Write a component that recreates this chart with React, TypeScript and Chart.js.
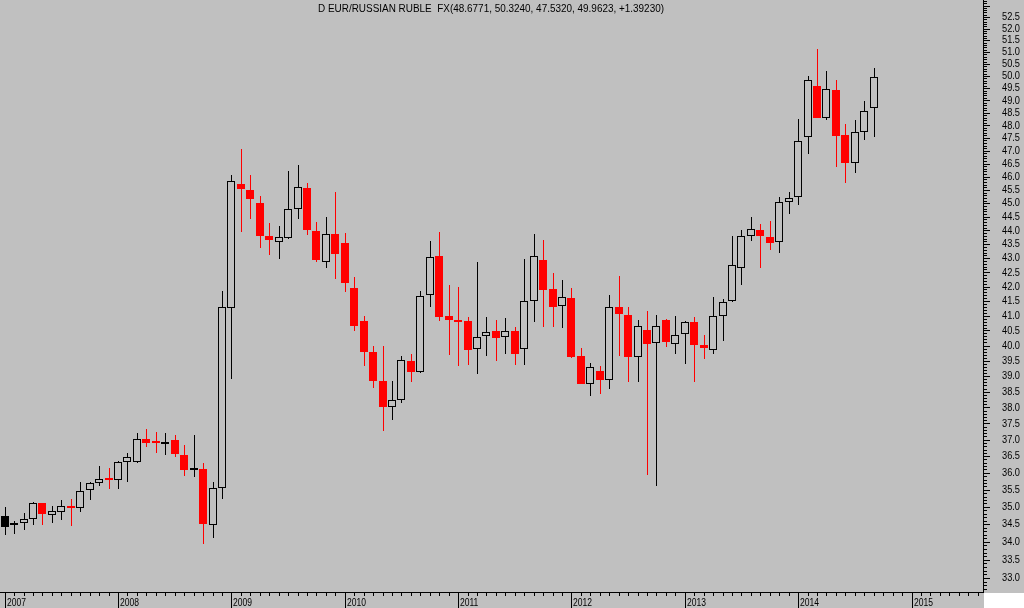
import React, { useEffect, useRef } from "react";
import { Chart, registerables } from "chart.js";

Chart.register(...registerables);

// Monthly candles, Jan 2007 .. Sep 2014
const months = [
  "2007-01", "2007-02", "2007-03", "2007-04", "2007-05", "2007-06", "2007-07", "2007-08", "2007-09", "2007-10", "2007-11", "2007-12",
  "2008-01", "2008-02", "2008-03", "2008-04", "2008-05", "2008-06", "2008-07", "2008-08", "2008-09", "2008-10", "2008-11", "2008-12",
  "2009-01", "2009-02", "2009-03", "2009-04", "2009-05", "2009-06", "2009-07", "2009-08", "2009-09", "2009-10", "2009-11", "2009-12",
  "2010-01", "2010-02", "2010-03", "2010-04", "2010-05", "2010-06", "2010-07", "2010-08", "2010-09", "2010-10", "2010-11", "2010-12",
  "2011-01", "2011-02", "2011-03", "2011-04", "2011-05", "2011-06", "2011-07", "2011-08", "2011-09", "2011-10", "2011-11", "2011-12",
  "2012-01", "2012-02", "2012-03", "2012-04", "2012-05", "2012-06", "2012-07", "2012-08", "2012-09", "2012-10", "2012-11", "2012-12",
  "2013-01", "2013-02", "2013-03", "2013-04", "2013-05", "2013-06", "2013-07", "2013-08", "2013-09", "2013-10", "2013-11", "2013-12",
  "2014-01", "2014-02", "2014-03", "2014-04", "2014-05", "2014-06", "2014-07", "2014-08", "2014-09",
];

const opens = [
  34.73, 34.47, 34.54, 34.65, 35.10, 34.76, 34.84, 35.00, 34.97, 35.48, 35.69, 35.84,
  35.78, 36.33, 36.33, 37.02, 36.93, 36.86, 36.99, 36.52, 36.08, 36.10, 34.48, 35.55,
  41.25, 45.72, 45.49, 45.01, 43.80, 43.57, 43.74, 44.77, 45.56, 43.98, 42.88, 43.87,
  43.53, 41.95, 40.82, 39.79, 38.84, 38.00, 38.25, 39.48, 39.12, 41.70, 43.07, 40.98,
  40.81, 40.81, 39.87, 40.31, 40.47, 40.27, 40.47, 39.87, 41.49, 42.93, 41.90, 41.33,
  41.60, 39.66, 38.74, 39.17, 38.89, 41.29, 41.02, 39.61, 40.52, 40.07, 40.86, 40.04,
  40.37, 40.79, 40.01, 39.85, 40.98, 41.49, 42.66, 43.78, 44.01, 43.77, 43.57, 45.03,
  45.22, 47.52, 49.59, 48.28, 49.42, 47.62, 46.51, 47.72, 48.6771,
];

const highs = [
  35.00, 34.59, 34.81, 35.15, 35.12, 35.02, 35.20, 35.23, 35.73, 35.72, 36.20, 36.15,
  36.36, 36.58, 37.22, 37.34, 37.25, 37.22, 37.15, 36.85, 37.15, 36.28, 35.74, 41.85,
  46.06, 47.07, 46.06, 45.27, 44.27, 44.15, 46.22, 46.45, 45.76, 44.31, 44.48, 45.43,
  43.92, 42.34, 40.99, 39.98, 39.98, 38.84, 39.66, 39.71, 41.85, 43.60, 43.94, 42.04,
  41.98, 40.95, 42.85, 40.95, 40.86, 40.93, 40.61, 42.97, 43.87, 43.65, 42.47, 42.23,
  41.95, 39.91, 39.43, 39.32, 41.71, 42.38, 41.29, 40.86, 41.16, 41.02, 40.88, 40.99,
  40.82, 40.96, 40.34, 41.64, 41.56, 43.80, 44.01, 44.48, 44.24, 44.34, 45.22, 45.41,
  48.25, 50.00, 51.13, 50.20, 49.83, 48.04, 48.21, 48.97, 50.3240,
];

const lows = [
  34.20, 34.23, 34.34, 34.48, 34.48, 34.54, 34.62, 34.45, 34.86, 35.19, 35.60, 35.53,
  35.53, 35.74, 36.30, 36.79, 36.59, 36.52, 36.47, 35.91, 35.87, 33.94, 34.10, 35.22,
  38.92, 43.95, 44.40, 43.37, 43.11, 42.98, 43.68, 44.41, 43.84, 42.87, 42.66, 42.27,
  41.82, 40.49, 39.34, 38.63, 37.28, 37.62, 38.14, 38.82, 39.10, 41.31, 40.83, 39.70,
  39.34, 39.37, 39.08, 39.67, 39.50, 39.73, 39.37, 39.37, 40.77, 40.63, 40.63, 40.59,
  39.60, 38.74, 38.37, 38.44, 38.60, 39.66, 38.81, 38.81, 35.94, 35.62, 39.96, 39.73,
  39.40, 38.82, 39.57, 39.71, 40.15, 41.48, 42.05, 43.60, 42.65, 43.29, 43.19, 44.61,
  44.94, 46.88, 48.28, 48.19, 46.38, 45.77, 46.15, 47.43, 47.5320,
];

const closes = [
  34.43, 34.52, 34.65, 35.10, 34.78, 34.87, 35.01, 34.96, 35.46, 35.70, 35.81, 35.80,
  36.33, 36.46, 37.01, 36.91, 36.89, 36.93, 36.56, 36.09, 36.11, 34.51, 35.55, 41.28,
  45.82, 45.54, 45.17, 43.81, 43.66, 43.75, 44.77, 45.60, 44.00, 42.94, 43.88, 43.16,
  42.13, 40.66, 39.78, 38.85, 38.02, 38.24, 39.51, 39.12, 41.68, 43.03, 40.97, 40.87,
  40.77, 39.86, 40.29, 40.46, 40.26, 40.47, 39.73, 41.49, 43.07, 41.89, 41.31, 41.63,
  39.63, 38.76, 39.28, 38.88, 41.28, 41.07, 39.62, 40.64, 40.06, 40.64, 40.12, 40.34,
  40.78, 40.03, 39.91, 40.98, 41.46, 42.77, 43.79, 44.04, 43.81, 43.56, 45.03, 45.20,
  47.37, 49.82, 48.30, 49.45, 47.59, 46.53, 47.72, 48.57, 49.9623,
];

const yearLabels = ["2007", "2008", "2009", "2010", "2011", "2012", "2013", "2014", "2015"];
const yearTickIndex = [0, 12, 24, 36, 48, 60, 72, 84, 96];

const priceTickLabels = [
  "33.0", "33.5", "34.0", "34.5", "35.0", "35.5", "36.0", "36.5", "37.0", "37.5",
  "38.0", "38.5", "39.0", "39.5", "40.0", "40.5", "41.0", "41.5", "42.0", "42.5",
  "43.0", "43.5", "44.0", "44.5", "45.0", "45.5", "46.0", "46.5", "47.0", "47.5",
  "48.0", "48.5", "49.0", "49.5", "50.0", "50.5", "51.0", "51.5", "52.0", "52.5",
];

const titleText = "D EUR/RUSSIAN RUBLE  FX(48.6771, 50.3240, 47.5320, 49.9623, +1.39230)";

const X_MIN = -0.4976;
const X_MAX = 103.568;
const Y_MIN = 32.59;
const Y_MAX = 53.244;

const BG = "#C0C0C0";
const RED = "#FF0000";
const BLACK = "#000000";
const FONT = '10px "Liberation Sans", Arial, sans-serif';
const FONT_X = '11px "Liberation Sans", Arial, sans-serif';

function candleColor(i: number): string {
  return i > 0 && closes[i] < closes[i - 1] ? RED : BLACK;
}
function bodyFill(i: number): string {
  return closes[i] < opens[i] ? candleColor(i) : BG;
}

const snapPlugin = {
  id: "snapCandles",
  beforeDatasetsDraw(chart: any) {
    const body = chart.getDatasetMeta(0).data;
    const wick = chart.getDatasetMeta(1).data;
    body.forEach((el: any, i: number) => {
      el.x = Math.round(el.x);
      el.y = Math.round(el.y);
      el.base = Math.round(el.base);
      const w = wick[i];
      if (w) {
        w.x = el.x + 0.5;
        w.y = Math.round(w.y);
        w.base = Math.round(w.base);
      }
    });
  },
};

function fitText(ctx: CanvasRenderingContext2D, text: string, x: number, y: number, sx: number) {
  ctx.save();
  ctx.translate(x, y);
  ctx.scale(sx, 1);
  ctx.fillText(text, 0, 0);
  ctx.restore();
}

const axesPlugin = {
  id: "axesDraw",
  beforeDraw(chart: any) {
    const { ctx, width, height, chartArea } = chart;
    ctx.save();
    ctx.fillStyle = BG;
    ctx.fillRect(0, 0, width, height);
    ctx.fillStyle = "#FFFFFF";
    ctx.fillRect(Math.round(chartArea.right) + 1, Math.round(chartArea.bottom), width, height);
    ctx.restore();
  },
  afterDraw(chart: any) {
    const { ctx, chartArea, scales } = chart;
    const xs = scales.x;
    const ys = scales.y;
    const R = Math.round(chartArea.right);
    const B = Math.round(chartArea.bottom);
    ctx.save();
    ctx.fillStyle = BLACK;
    // axis lines
    ctx.fillRect(R, 0, 1, B);
    ctx.fillRect(0, B - 1, R + 1, 1);
    // price ticks (minor every 0.1, major every 0.5)
    for (let k = 326; k <= 532; k++) {
      const py = Math.round(ys.getPixelForValue(k / 10));
      if (py < 0 || py > B - 1) continue;
      ctx.fillRect(R + 1, py, k % 5 === 0 ? 6 : 3, 1);
    }
    // month ticks
    for (let m = 0; m <= 110; m++) {
      const px = Math.round(xs.getPixelForValue(m));
      if (px > R) break;
      const isYear = yearTickIndex.indexOf(m) >= 0;
      ctx.fillRect(px, B, 1, isYear ? 15 : 3);
    }
    // price labels
    ctx.font = FONT;
    ctx.textAlign = "left";
    ctx.textBaseline = "middle";
    const sy = 18 / ctx.measureText("52.5").width;
    priceTickLabels.forEach((lab) => {
      const py = ys.getPixelForValue(parseFloat(lab));
      fitText(ctx, lab, 1002, py + 0.5, sy);
    });
    // title
    ctx.textAlign = "center";
    const st = 346 / ctx.measureText(titleText).width;
    fitText(ctx, titleText, 491, 9, st);
    // year labels
    ctx.font = FONT_X;
    ctx.textAlign = "left";
    ctx.textBaseline = "alphabetic";
    const sx = 19 / ctx.measureText("2007").width;
    yearLabels.forEach((lab, j) => {
      const px = Math.round(xs.getPixelForValue(yearTickIndex[j]));
      fitText(ctx, lab, px + 2, 606, sx);
    });
    ctx.restore();
  },
};

export default function App() {
  const ref = useRef<HTMLCanvasElement>(null);
  useEffect(() => {
    document.body.style.margin = "0";
    const canvas = ref.current;
    if (!canvas) return;
    const chart = new Chart(canvas, {
      type: "bar",
      data: {
        labels: months,
        datasets: [
          {
            label: "body",
            data: months.map((_, i) => ({ x: i, y: [opens[i], closes[i]] })) as any,
            backgroundColor: (c: any) => bodyFill(c.dataIndex),
            borderColor: (c: any) => candleColor(c.dataIndex),
            borderWidth: (c: any) => (bodyFill(c.dataIndex) === BG ? 1 : 0),
            borderSkipped: false,
            barThickness: 8,
            maxBarThickness: 8,
            minBarLength: 2,
            grouped: false,
            inflateAmount: 0,
            order: 0,
          } as any,
          {
            label: "wick",
            data: months.map((_, i) => ({ x: i, y: [lows[i], highs[i]] })) as any,
            backgroundColor: (c: any) => candleColor(c.dataIndex),
            borderWidth: 0,
            borderSkipped: false,
            barThickness: 1,
            maxBarThickness: 1,
            grouped: false,
            inflateAmount: 0,
            order: 1,
          } as any,
        ],
      },
      options: {
        responsive: false,
        animation: false,
        events: [],
        layout: { padding: { left: 0, top: 0, right: 41, bottom: 15 } },
        plugins: {
          legend: { display: false },
          tooltip: { enabled: false },
          title: { display: false },
        },
        scales: {
          x: { type: "linear", min: X_MIN, max: X_MAX, display: false, offset: false, bounds: "data" } as any,
          y: { type: "logarithmic", min: Y_MIN, max: Y_MAX, display: false, bounds: "data" } as any,
        },
      },
      plugins: [snapPlugin, axesPlugin],
    });
    return () => chart.destroy();
  }, []);
  return <canvas ref={ref} width={1024} height={608} style={{ display: "block" }} />;
}
